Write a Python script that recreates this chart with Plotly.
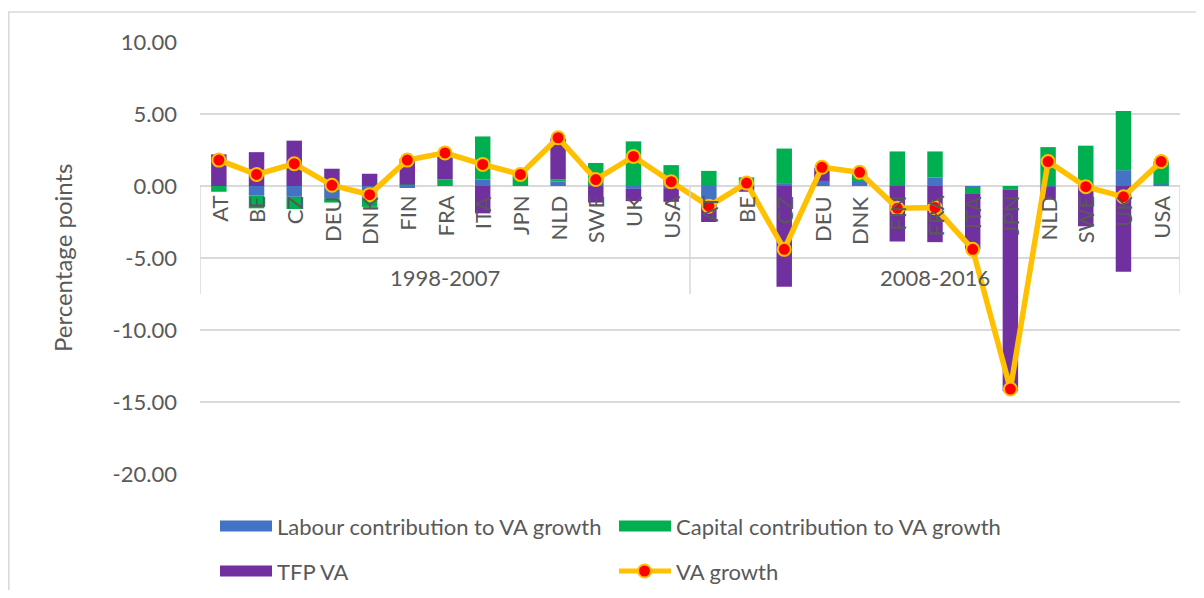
import plotly.graph_objects as go

# ---------------- data ----------------
countries = ["AT", "BE", "CZ", "DEU", "DNK", "FIN", "FRA", "ITA", "JPN", "NLD", "SWE", "UK", "USA"]
periods = ["1998-2007", "2008-2016"]

labour_1998 = [0.0, -0.65, -0.75, -0.85, -0.9, -0.1, 0.0, 0.44, 0.0, 0.3, 0.1, -0.2, -0.15]
capital_1998 = [-0.4, -0.9, -0.85, -0.3, -0.55, 0.1, 0.45, 3.0, 0.8, 0.15, 1.5, 3.1, 1.45]
tfp_1998 = [2.2, 2.35, 3.15, 1.2, 0.85, 1.8, 1.85, -1.9, 0.02, 2.85, -1.15, -0.85, -0.95]
va_1998 = [1.8, 0.8, 1.55, 0.05, -0.6, 1.8, 2.3, 1.5, 0.8, 3.35, 0.45, 2.05, 0.3]

labour_2008 = [-1.0, 0.0, 0.2, 0.35, 0.35, 0.05, 0.6, -0.1, 0.0, -0.05, 0.05, 1.1, 0.12]
capital_2008 = [1.05, 0.6, 2.4, 0.0, 0.6, 2.35, 1.8, -0.4, -0.25, 2.7, 2.75, 4.1, 1.6]
tfp_2008 = [-1.5, -0.4, -7.0, 0.9, 0.0, -3.85, -3.9, -3.9, -14.0, -0.9, -2.8, -5.95, 0.0]
va_2008 = [-1.4, 0.2, -4.4, 1.3, 0.95, -1.55, -1.5, -4.4, -14.1, 1.7, -0.05, -0.75, 1.7]

series_names = ["Labour contribution to VA growth", "Capital contribution to VA growth", "TFP VA", "VA growth"]
y_ticks = [10, 5, 0, -5, -10, -15, -20]
y_title = "Percentage points"

# ---------------- style ----------------
FONT = "Lato, 'Open Sans', 'Liberation Sans', sans-serif"
TXT = "#595959"
GRID = "#D9D9D9"
C_LAB, C_CAP, C_TFP, C_LINE, C_MARK = "#4472C4", "#00B050", "#7030A0", "#FFC000", "#FF0000"
FS = 22

OFF = 8  # page offset of the figure (body margin)
W, H = 1188, 582
L, R, T, B = 192, 16, 34, 116
PW, PH = W - L - R, H - T - B


def px(x):  # page pixel -> paper
    return (x - OFF - L) / PW


def py(y):  # page pixel -> paper
    return (H - B - (y - OFF)) / PH


labels = countries + countries
labour = labour_1998 + labour_2008
capital = capital_1998 + capital_2008
tfp = tfp_1998 + tfp_2008
va = va_1998 + va_2008
xpos = list(range(len(labels)))
n = len(countries)

fig = go.Figure()
for vals, col, nm in [(labour, C_LAB, series_names[0]), (capital, C_CAP, series_names[1]), (tfp, C_TFP, series_names[2])]:
    fig.add_trace(go.Bar(x=xpos, y=vals, name=nm, marker=dict(color=col, line=dict(width=0)),
                         width=0.41, showlegend=False))
fig.add_trace(go.Scatter(x=xpos, y=va, name=series_names[3], mode="lines+markers",
                         line=dict(color=C_LINE, width=5.5),
                         marker=dict(color=C_MARK, size=13, line=dict(color=C_LINE, width=2)),
                         showlegend=False))

annotations = []
# category labels (rotated)
for i, lab in enumerate(labels):
    annotations.append(dict(x=i, y=0, xref="x", yref="y", text=lab, textangle=-90, showarrow=False,
                            xanchor="center", yanchor="top", yshift=-8,
                            font=dict(family=FONT, size=FS, color=TXT)))
# period labels
for k, p in enumerate(periods):
    annotations.append(dict(x=k * n + (n - 1) / 2, y=py(277.5), xref="x", yref="paper", text=p,
                            showarrow=False, xanchor="center", yanchor="middle",
                            font=dict(family=FONT, size=FS, color=TXT)))
# y title
annotations.append(dict(x=px(62), y=py(258), xref="paper", yref="paper", text=y_title, textangle=-90,
                        showarrow=False, xanchor="center", yanchor="middle",
                        font=dict(family=FONT, size=24, color=TXT)))

shapes = []
# chart-area border
shapes.append(dict(type="rect", xref="paper", yref="paper", x0=px(8.8), x1=px(1215), y0=py(610), y1=py(12),
                   line=dict(color=GRID, width=1.5), fillcolor="rgba(0,0,0,0)", layer="below"))
# category separators
for xv in [-0.5, n - 0.5, 2 * n - 0.5]:
    shapes.append(dict(type="line", xref="x", yref="paper", x0=xv, x1=xv, y0=py(185.7), y1=py(294),
                       line=dict(color=GRID, width=1.5)))

# custom legend
leg = [
    (220, 526, C_LAB, series_names[0]),
    (619, 526, C_CAP, series_names[1]),
    (220, 571, C_TFP, series_names[2]),
]
for x0, yc, col, nm in leg:
    shapes.append(dict(type="rect", xref="paper", yref="paper", x0=px(x0), x1=px(x0 + 52),
                       y0=py(yc + 5.5), y1=py(yc - 5.5), fillcolor=col, line=dict(width=0)))
    annotations.append(dict(x=px(x0 + 55), y=py(yc), xref="paper", yref="paper", text=nm, showarrow=False,
                            xanchor="left", yanchor="middle", font=dict(family=FONT, size=FS, color=TXT)))
# line legend
shapes.append(dict(type="line", xref="paper", yref="paper", x0=px(619), x1=px(671), y0=py(571), y1=py(571),
                   line=dict(color=C_LINE, width=5)))
shapes.append(dict(type="circle", xref="paper", yref="paper", x0=px(638), x1=px(651), y0=py(577.5), y1=py(564.5),
                   fillcolor=C_MARK, line=dict(color=C_LINE, width=2)))
annotations.append(dict(x=px(674), y=py(571), xref="paper", yref="paper", text=series_names[3], showarrow=False,
                        xanchor="left", yanchor="middle", font=dict(family=FONT, size=FS, color=TXT)))

fig.update_layout(
    width=W, height=H,
    margin=dict(l=L, r=R, t=T, b=B),
    paper_bgcolor="white", plot_bgcolor="white",
    barmode="relative",
    font=dict(family=FONT, size=FS, color=TXT),
    xaxis=dict(range=[-0.5, 2 * n - 0.5], showticklabels=False, showgrid=False, zeroline=False,
               showline=False, fixedrange=True),
    yaxis=dict(range=[-20, 10], tickvals=y_ticks, ticktext=[f"{v:.2f}" for v in y_ticks],
               showgrid=True, gridcolor=GRID,
               gridwidth=1.5, zeroline=True, zerolinecolor=GRID, zerolinewidth=1.5, showline=False,
               ticklabelstandoff=22, tickfont=dict(family=FONT, size=FS, color=TXT), fixedrange=True),
    annotations=annotations,
    shapes=shapes,
    showlegend=False,
)

fig.write_html("out.html")
